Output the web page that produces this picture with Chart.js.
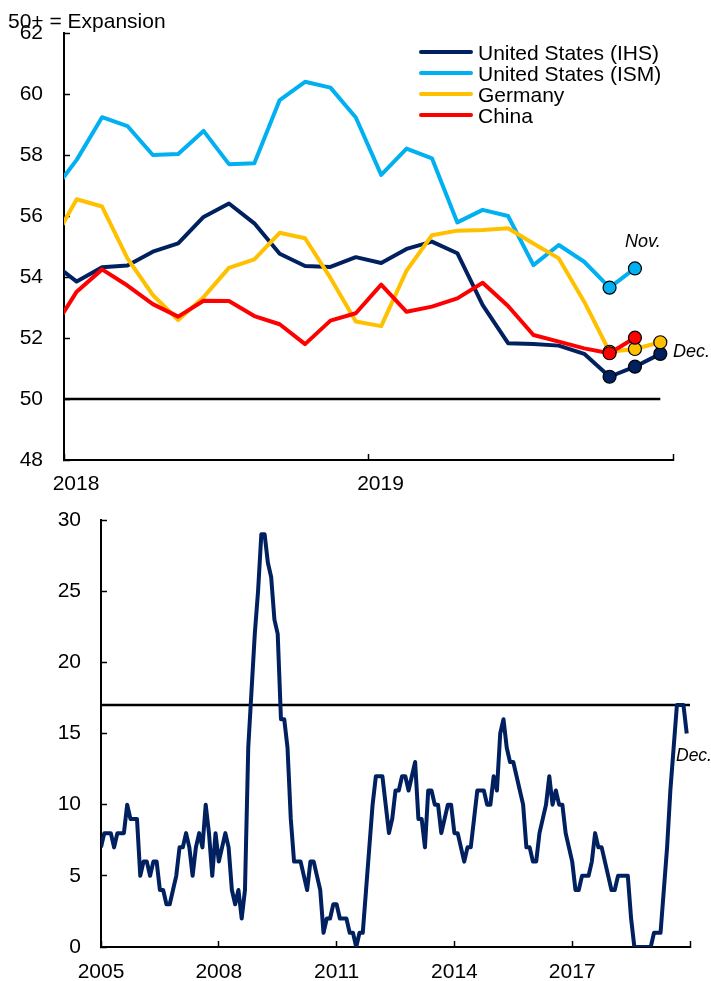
<!DOCTYPE html>
<html>
<head>
<meta charset="utf-8">
<title>PMI</title>
<script src="https://cdn.jsdelivr.net/npm/chart.js@4.4.1/dist/chart.umd.min.js"></script>
<style>
    html, body { margin: 0; padding: 0; background: #fff; }
    body { position: relative; width: 711px; height: 981px; overflow: hidden;
           font-family: "Liberation Sans", Arial, sans-serif; color: #000; }
    canvas { position: absolute; left: 0; }
    #pmiChart { top: 0; }
    #countChart { top: 500px; }
    .note { position: absolute; font-size: 21px; line-height: 21px; white-space: nowrap; }
    .tag { position: absolute; font-size: 18px; line-height: 18px; font-style: italic; white-space: nowrap; }
    #legend { position: absolute; left: 419px; top: 41.5px; }
    .legend-row { display: flex; align-items: center; height: 21px; font-size: 21px; line-height: 21px; white-space: nowrap; }
    .legend-line { display: inline-block; width: 54px; height: 4px; margin-right: 5px; border-radius: 2px; }
</style>
</head>
<body>
<canvas id="pmiChart" width="711" height="500"></canvas>
<canvas id="countChart" width="711" height="481"></canvas>
<div class="note" style="left:8px; top:10px;">50+ = Expansion</div>
<div id="legend"></div>
<div class="tag" style="left:625px; top:232px;">Nov.</div>
<div class="tag" style="left:673px; top:342px;">Dec.</div>
<div class="tag" style="left:676px; top:746px; font-size:17.5px;">Dec.</div>
<script>
"use strict";

// Top panel: monthly PMI. First value is Dec 2017 (only its piece up to the
// axis is visible), then Jan 2018 ... Dec 2019 (ISM and China stop at Nov).
const usIhs = [54.49,
    53.85, 54.32, 54.38, 54.83, 55.10, 55.97, 56.41, 55.76, 54.76, 54.36, 54.33, 54.65,
    54.46, 54.92, 55.16, 54.78, 53.08, 51.83, 51.80, 51.75, 51.48, 50.73, 51.06, 51.48];
const usIsm = [56.74,
    57.84, 59.24, 58.95, 58.00, 58.03, 58.79, 57.70, 57.73, 59.80, 60.40, 60.21, 59.23,
    57.35, 58.21, 57.89, 55.79, 56.20, 56.00, 54.39, 55.05, 54.50, 53.65, 54.28];
const germany = [55.07,
    56.55, 56.31, 54.61, 53.41, 52.59, 53.34, 54.30, 54.58, 55.45, 55.27, 53.97, 52.54,
    52.39, 54.21, 55.37, 55.52, 55.54, 55.60, 55.10, 54.61, 53.19, 51.55, 51.64, 51.86];
const china = [52.20,
    53.52, 54.25, 53.72, 53.11, 52.70, 53.22, 53.21, 52.72, 52.45, 51.80, 52.57, 52.81,
    53.75, 52.86, 53.03, 53.30, 53.81, 53.05, 52.10, 51.88, 51.66, 51.50, 52.01];
const seriesNames = ["United States (IHS)", "United States (ISM)", "Germany", "China"];
const topYears = ["2018", "2019"];
const expansionLevel = 50;

// Bottom panel: monthly count, Jan 2005 ... Dec 2019
const monthlyCount = [
    7, 8, 8, 8, 7, 8, 8, 8, 10, 9, 9, 9,          // 2005
    5, 6, 6, 5, 6, 6, 4, 4, 3, 3, 4, 5,           // 2006
    7, 7, 8, 7, 5, 7, 8, 7, 10, 8, 5, 8,          // 2007
    6, 7, 8, 7, 4, 3, 4, 2, 4, 14, 18, 22,        // 2008
    25, 29, 29, 27, 26, 23, 22, 16, 16, 14, 9, 6, // 2009
    6, 6, 5, 4, 6, 6, 5, 4, 1, 2, 2, 3,           // 2010
    3, 2, 2, 2, 1, 1, 0, 1, 1, 4, 7, 10,          // 2011
    12, 12, 12, 10, 8, 9, 11, 11, 12, 12, 11, 12, // 2012
    13, 9, 9, 7, 11, 11, 10, 10, 8, 9, 10, 10,    // 2013
    8, 8, 7, 6, 7, 7, 9, 11, 11, 11, 10, 10,      // 2014
    12, 11, 15, 16, 14, 13, 13, 12, 11, 10, 7, 7, // 2015
    6, 6, 8, 9, 10, 12, 10, 11, 10, 10, 8, 7,     // 2016
    6, 4, 4, 5, 5, 5, 6, 8, 7, 7, 6, 5,           // 2017
    4, 4, 5, 5, 5, 5, 2, 0, 0, 0, 0, 0,           // 2018
    0, 1, 1, 1, 4, 7, 11, 14, 17, 17, 17, 15      // 2019
];
const bottomYears = ["2005", "2008", "2011", "2014", "2017"];
const thresholdLevel = 17;

const topColors = ["#002060", "#00b0f0", "#ffc000", "#ff0000"];
const navy = "#002060";
const fontFamily = "'Liberation Sans', Arial, sans-serif";

Chart.defaults.font.family = fontFamily;
Chart.defaults.color = "#000";

function axisStyle() {
    return {
        grid: { drawOnChartArea: false, tickLength: -6, tickColor: "#000", tickWidth: 1.5 },
        border: { color: "#000", width: 2 }
    };
}

function fixedTicks(values) {
    return function (scale) {
        scale.ticks = values.map(function (v) { return { value: v }; });
    };
}

// pin the axis box size and drop the label overhang padding so the plot
// area is exactly what layout.padding leaves
function fitTo(prop, size) {
    return function (scale) {
        scale[prop] = size;
        scale.paddingTop = 0;
        scale.paddingBottom = 0;
        scale.paddingLeft = 0;
        scale.paddingRight = 0;
    };
}

// ---- top chart ----
var topSeries = [usIhs, usIsm, germany, china];
var dotsFrom = 22; // data index of Oct 2019 (index 0 is Dec 2017)

var pmiDatasets = topSeries.map(function (values, k) {
    return {
        label: seriesNames[k],
        data: values.map(function (v, i) { return { x: i - 0.5, y: v }; }),
        borderColor: topColors[k],
        backgroundColor: topColors[k],
        borderWidth: 4,
        borderJoinStyle: "round",
        pointRadius: function (ctx) { return ctx.dataIndex >= dotsFrom ? 6.5 : 0; },
        pointBackgroundColor: topColors[k],
        pointBorderColor: "#000",
        pointBorderWidth: 1.2,
        order: topSeries.length - k,
        clip: 0
    };
});
pmiDatasets.push({
    label: "expansion",
    data: [{ x: 0, y: expansionLevel }, { x: usIhs.length - 1.5, y: expansionLevel }],
    borderColor: "#000",
    borderWidth: 2.5,
    pointRadius: 0,
    order: 10,
    clip: 0
});

var topX = axisStyle();
topX.type = "linear";
topX.min = 0;
topX.max = 24;
topX.afterBuildTicks = fixedTicks([0, 12, 24]);
topX.afterFit = fitTo("height", 40);
topX.ticks = {
    autoSkip: false, maxRotation: 0, labelOffset: 12, padding: 18,
    font: { size: 21 },
    callback: function (v) { return topYears[v / 12] || ""; }
};

var topY = axisStyle();
topY.min = 48;
topY.max = 62;
topY.afterFit = fitTo("width", 64);
topY.ticks = { stepSize: 2, padding: 27, font: { size: 21 } };

new Chart(document.getElementById("pmiChart"), {
    type: "line",
    data: { datasets: pmiDatasets },
    options: {
        responsive: false,
        animation: false,
        devicePixelRatio: 1,
        events: [],
        layout: { padding: { top: 33, right: 38, bottom: 0, left: 0 } },
        plugins: { legend: { display: false }, tooltip: { enabled: false } },
        scales: { x: topX, y: topY }
    }
});

// legend sits inside the plot, built from the series names
var legend = document.getElementById("legend");
seriesNames.forEach(function (name, k) {
    var row = document.createElement("div");
    row.className = "legend-row";
    var swatch = document.createElement("span");
    swatch.className = "legend-line";
    swatch.style.background = topColors[k];
    row.appendChild(swatch);
    row.appendChild(document.createTextNode(name));
    legend.appendChild(row);
});

// ---- bottom chart ----
var lastTick = bottomYears.length * 36;

var botX = axisStyle();
botX.type = "linear";
botX.min = 0;
botX.max = lastTick;
botX.afterBuildTicks = fixedTicks([0, 36, 72, 108, 144, 180]);
botX.afterFit = fitTo("height", 34);
botX.ticks = {
    autoSkip: false, maxRotation: 0, padding: 19,
    font: { size: 21 },
    callback: function (v) { return bottomYears[v / 36] || ""; }
};

var botY = axisStyle();
botY.min = 0;
botY.max = 30;
botY.afterFit = fitTo("width", 101);
botY.ticks = { stepSize: 5, padding: 26, font: { size: 21 } };

new Chart(document.getElementById("countChart"), {
    type: "line",
    data: {
        datasets: [
            {
                label: "count",
                data: monthlyCount.map(function (v, i) { return { x: i, y: v }; }),
                borderColor: navy,
                borderWidth: 4,
                borderJoinStyle: "round",
                pointRadius: 0,
                order: 1
            },
            {
                label: "threshold",
                data: [{ x: 0, y: thresholdLevel }, { x: lastTick, y: thresholdLevel }],
                borderColor: "#000",
                borderWidth: 2.5,
                pointRadius: 0,
                order: 2
            }
        ]
    },
    options: {
        responsive: false,
        animation: false,
        devicePixelRatio: 1,
        events: [],
        layout: { padding: { top: 20, right: 21, bottom: 0, left: 0 } },
        plugins: { legend: { display: false }, tooltip: { enabled: false } },
        scales: { x: botX, y: botY }
    }
});
</script>
</body>
</html>
